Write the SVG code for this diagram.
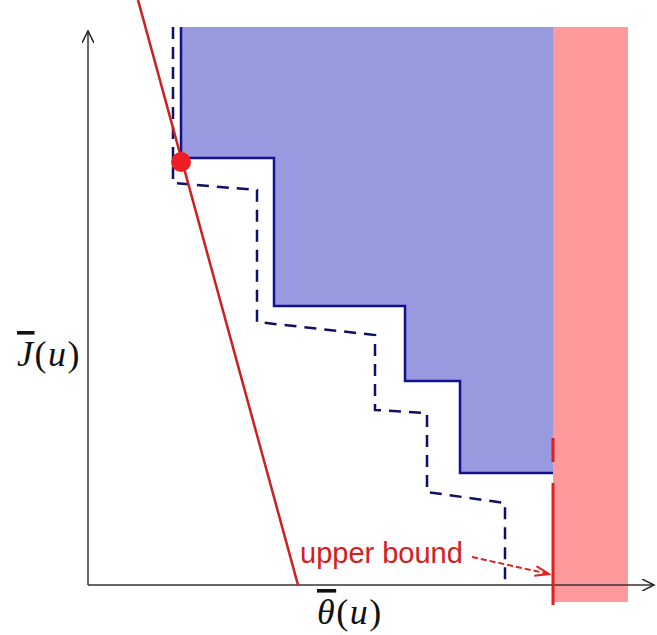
<svg xmlns="http://www.w3.org/2000/svg" width="657" height="635" viewBox="0 0 657 635">
<style>
.axis{stroke:#333;stroke-width:1.5;fill:none}
.solid{stroke:#101090;stroke-width:2.5;fill:none}
.dash{stroke:#101060;stroke-width:2.5;fill:none;stroke-dasharray:12,8}
.math{font-family:"Liberation Serif","DejaVu Serif",serif;font-size:36px;fill:#111;letter-spacing:1.5px}
.it{font-style:italic}
.lbl{font-family:"Liberation Sans",Arial,sans-serif;font-size:29px;fill:#d42020}
</style>
<defs>
<marker id="ah" markerWidth="14" markerHeight="12" refX="12" refY="6" orient="auto" markerUnits="userSpaceOnUse">
<path d="M0,0 L12,6 L0,12" fill="none" stroke="#222" stroke-width="1.5"/>
</marker>
<marker id="rh" markerWidth="16" markerHeight="12" refX="14" refY="6" orient="auto" markerUnits="userSpaceOnUse">
<path d="M0,1 L14,6 L0,11" fill="none" stroke="#e02020" stroke-width="2"/>
</marker>
</defs>
<rect width="657" height="635" fill="#fff"/>
<g id="feasible-region">
<path d="M181,27 L553,27 L553,473 L460,473 L460,381 L405,381 L405,306 L274,306 L274,158 L181,158 Z" fill="#9999e0"/>
</g>
<g id="infeasible-band">
<rect x="553" y="27" width="75" height="575" fill="#fe9a9c"/>
</g>
<g id="connectors">
<line class="axis" x1="88" y1="585" x2="88" y2="31" marker-end="url(#ah)"/>
<line class="axis" x1="88" y1="585" x2="654" y2="585" marker-end="url(#ah)"/>
<path class="solid" d="M181,27 L181,158 L274,158 L274,306 L405,306 L405,381 L460,381 L460,473 L553,473"/>
<path class="dash" d="M173,27 L173,183 L257,190 L257,322 L375,335 L375,410 L427,413 L427,492 L505,503 L505,585"/>
<line x1="138" y1="0" x2="298" y2="585" stroke="#cc1f1f" stroke-width="2.5"/>
<line x1="553" y1="438" x2="553" y2="462" stroke="#dd2020" stroke-width="3"/>
<line x1="553" y1="483" x2="553" y2="605" stroke="#dd2020" stroke-width="3"/>
<line x1="472" y1="557" x2="549" y2="574" stroke="#e02020" stroke-width="2" stroke-dasharray="6,3" marker-end="url(#rh)"/>
</g>
<g id="optimum">
<circle cx="181" cy="162" r="10" fill="#ee1c24"/>
</g>
<g id="upper-bound-label">
<text class="lbl" x="300" y="563">upper bound</text>
</g>
<g id="y-label">
<text class="math" x="17" y="366"><tspan class="it" text-decoration="overline">J</tspan>(<tspan class="it">u</tspan>)</text>
</g>
<g id="x-label">
<text class="math" x="317" y="624"><tspan class="it" text-decoration="overline">θ</tspan>(<tspan class="it">u</tspan>)</text>
</g>
</svg>
